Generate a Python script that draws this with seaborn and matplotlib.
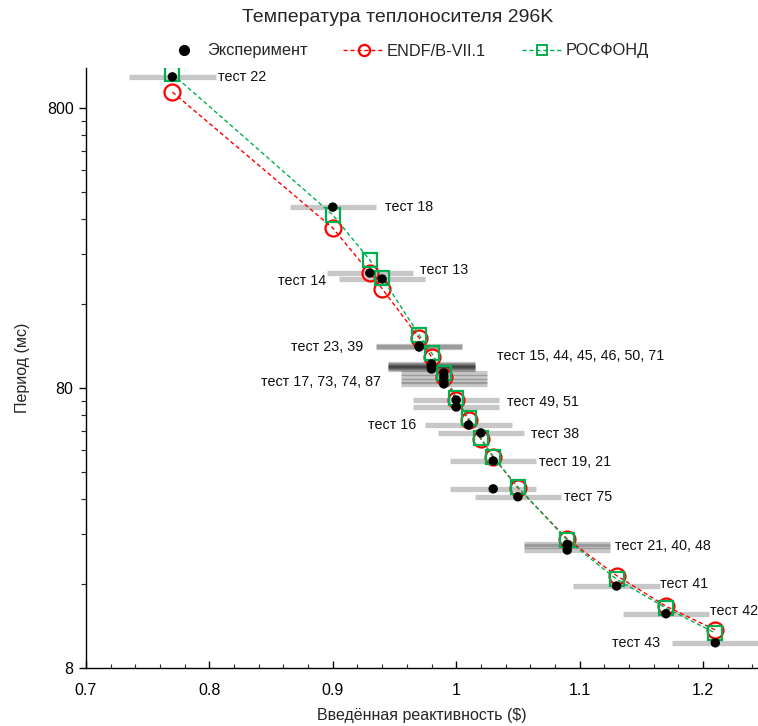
import numpy as np
import pandas as pd
import matplotlib
matplotlib.use('Agg')
import matplotlib.pyplot as plt
import seaborn as sns
from matplotlib.lines import Line2D
from matplotlib.ticker import FixedLocator, FuncFormatter, NullFormatter, MultipleLocator

# ---- experimental points ----
exp_reactivity = [0.77, 0.90, 0.93, 0.94, 0.97, 0.97,
                  0.98, 0.98, 0.98, 0.98, 0.98, 0.98,
                  0.99, 0.99, 0.99, 0.99, 1.00, 1.00, 1.01, 1.02,
                  1.03, 1.03, 1.05, 1.09, 1.09, 1.09, 1.13, 1.17, 1.21]
exp_period = [1033, 354, 206, 196, 112, 113,
              97.5, 96.5, 96, 95, 94.5, 93.5,
              90.5, 87.6, 84.7, 82.7, 72.5, 68.4, 59.0, 55.3,
              43.9, 34.9, 32.7, 22.1, 21.9, 21.1, 15.7, 12.5, 9.84]
exp_error = 0.035

# ---- calculations ----
calc_reactivity = [0.77, 0.90, 0.93, 0.94, 0.97, 0.98, 0.99, 1.00,
                   1.01, 1.02, 1.03, 1.05, 1.09, 1.13, 1.17, 1.21]
endf_period = [912, 298, 206, 181, 120.7, 103.3, 87.6, 72.5,
               61.5, 52.6, 45.4, 35.2, 23.1, 17.1, 13.3, 10.94]
rosfond_period = [1058, 332, 229, 198, 123.7, 106.7, 90.5, 73.7,
                  62.5, 53.0, 45.4, 35.4, 22.9, 16.6, 13.1, 10.67]

# ---- test labels ----
test_labels = ["тест 22", "тест 18", "тест 13", "тест 14", "тест 23, 39",
               "тест 15, 44, 45, 46, 50, 71", "тест 17, 73, 74, 87",
               "тест 49, 51", "тест 16", "тест 38", "тест 19, 21", "тест 75",
               "тест 21, 40, 48", "тест 41", "тест 42", "тест 43"]
label_x = [0.807, 0.942, 0.971, 0.856, 0.866, 1.033, 0.842, 1.041,
           0.9285, 1.061, 1.067, 1.087, 1.129, 1.165, 1.206, 1.126]
label_y = [1033, 354, 211, 193, 112, 104, 84.0, 71.3,
           59.0, 54.8, 43.5, 32.7, 21.8, 16.0, 12.8, 9.84]

y_major = [8, 80, 800]
x_ticks = [0.7, 0.8, 0.9, 1.0, 1.1, 1.2]

sns.set_theme(style='ticks')
plt.rcParams['font.family'] = ['Liberation Sans', 'DejaVu Sans']

RED = '#ff0000'
GREEN = '#00b050'

W, H = 758, 726
fig = plt.figure(figsize=(W / 100, H / 100), dpi=100)
ax = fig.add_axes([86 / W, 1 - 668 / H, 672 / W, 600 / H])
ax.set_yscale('log')

exp_df = pd.DataFrame({'x': exp_reactivity, 'y': exp_period})
calc_df = pd.DataFrame({'x': calc_reactivity, 'endf': endf_period, 'ros': rosfond_period})

# horizontal uncertainty bars
xe = np.array(exp_reactivity)
ax.hlines(exp_period, xe - exp_error, xe + exp_error, colors='black',
          alpha=0.22, linewidth=3.8, zorder=1)

sns.lineplot(data=calc_df, x='x', y='endf', ax=ax, sort=False, estimator=None,
             color=RED, linewidth=1.0, linestyle=(0, (3, 2)),
             marker='o', markersize=11.5, markerfacecolor='none',
             markeredgecolor=RED, markeredgewidth=1.6, zorder=2)
sns.lineplot(data=calc_df, x='x', y='ros', ax=ax, sort=False, estimator=None,
             color=GREEN, linewidth=1.0, linestyle=(0, (3, 2)),
             marker='s', markersize=10.5, markerfacecolor='none',
             markeredgecolor=GREEN, markeredgewidth=1.6, zorder=3)
sns.scatterplot(data=exp_df, x='x', y='y', ax=ax, color='black', s=46,
                edgecolor='none', linewidth=0, zorder=4)

for t, lx, ly in zip(test_labels, label_x, label_y):
    ax.text(lx, ly, t, ha='left', va='center', fontsize=10.3, color='#111111')

ax.set_xlim(0.7, 1.2446)
ax.set_ylim(8, 1111)

ax.yaxis.set_major_locator(FixedLocator(y_major))
minor = [8 * k for k in range(2, 10)] + [80 * k for k in range(2, 10)]
ax.yaxis.set_minor_locator(FixedLocator(minor))
ax.yaxis.set_major_formatter(FuncFormatter(lambda v, p: f"{v:g}"))
ax.yaxis.set_minor_formatter(NullFormatter())
ax.xaxis.set_major_locator(FixedLocator(x_ticks))
ax.xaxis.set_minor_locator(MultipleLocator(0.02))
ax.xaxis.set_major_formatter(FuncFormatter(lambda v, p: f"{v:g}"))

ax.tick_params(axis='x', which='major', direction='in', length=5, width=1,
               labelsize=11.5, pad=11, colors='black')
ax.tick_params(axis='x', which='minor', direction='in', length=3, width=0.8)
ax.tick_params(axis='y', which='major', direction='out', length=5, width=1,
               labelsize=11.5, pad=4, colors='black')
ax.tick_params(axis='y', which='minor', direction='out', length=3.5, width=0.8)

for s in ['top', 'right']:
    ax.spines[s].set_visible(False)
for s in ['left', 'bottom']:
    ax.spines[s].set_color('black')
    ax.spines[s].set_linewidth(1)

ax.set_xlabel('Введённая реактивность (\\$)', fontsize=11.5, labelpad=7)
ax.set_ylabel('Период (мс)', fontsize=11.5, labelpad=12)

fig.text(398 / W, 1 - 18 / H, 'Температура теплоносителя 296K', ha='center',
         va='center', fontsize=14)

handles = [
    Line2D([], [], linestyle='none', marker='o', color='black', markersize=7),
    Line2D([], [], color=RED, linestyle=(0, (3, 2)), linewidth=1,
           marker='o', markersize=8, markerfacecolor='none', markeredgewidth=1.6),
    Line2D([], [], color=GREEN, linestyle=(0, (3, 2)), linewidth=1,
           marker='s', markersize=7.5, markerfacecolor='none', markeredgewidth=1.4),
]
fig.legend(handles, ['Эксперимент', 'ENDF/B-VII.1', 'РОСФОНД'], loc='center',
           bbox_to_anchor=(406 / W, 1 - 51 / H), ncol=3, frameon=False,
           fontsize=11.8, handlelength=2.5, handletextpad=0.15, columnspacing=2.2)

fig.savefig('out.png', dpi=100)
